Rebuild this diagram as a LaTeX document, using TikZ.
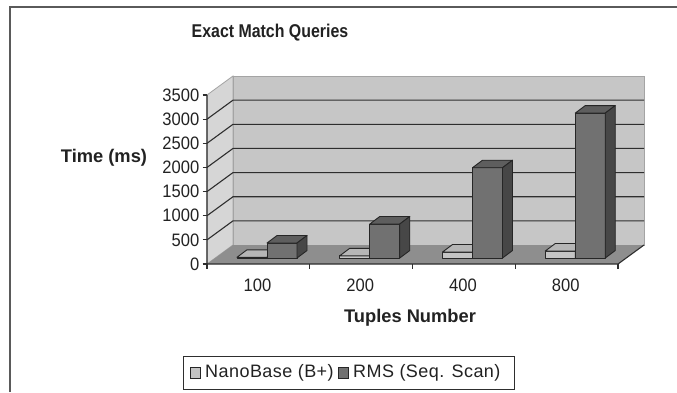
\documentclass[tikz,border=0pt]{standalone}
\usepackage{fontspec}
\setmainfont{Liberation Sans}
\newfontfamily\titlefont[FakeStretch=0.86]{Liberation Sans}
\newfontfamily\tickfont[FakeStretch=0.92]{Liberation Sans}
\newfontfamily\legfont[LetterSpace=2.5]{Liberation Sans}
\definecolor{framec}{HTML}{5A5A5A}
\definecolor{sidewall}{HTML}{D6D6D6}
\definecolor{backwall}{HTML}{C6C6C6}
\definecolor{walledge}{HTML}{A4A4A4}
\definecolor{floorc}{HTML}{8E8E8E}
\definecolor{gridc}{HTML}{2E2E2E}
\definecolor{txt}{HTML}{222222}
\definecolor{darkfront}{HTML}{717171}
\definecolor{darktop}{HTML}{5E5E5E}
\definecolor{darkside}{HTML}{474747}
\definecolor{lightfront}{HTML}{C4C4C4}
\definecolor{lighttop}{HTML}{B6B6B6}
\definecolor{lightside}{HTML}{9A9A9A}
\tikzset{
  gridline/.style={draw=gridc, line width=1.1},
  axisline/.style={draw=gridc, line width=1.1},
  barline/.style={draw=black!85, line width=0.9, line join=round},
  ticklab/.style={text=txt, font=\tickfont\fontsize{18}{20}\selectfont, inner sep=0pt},
  axtitle/.style={text=txt, font=\bfseries\fontsize{18.3}{21}\selectfont, inner sep=0pt},
  titlestyle/.style={text=txt, font=\titlefont\bfseries\fontsize{18.5}{21}\selectfont, inner sep=0pt},
  legtext/.style={text=txt, font=\legfont\fontsize{18}{20}\selectfont, inner sep=0pt, anchor=west},
}
\newcommand{\drawbar}[4]{% x1, x2, height, colour prefix
  \filldraw[fill=#4front, barline] (#1,258) rectangle (#2,{258-#3});
  \filldraw[fill=#4top, barline] (#1,{258-#3}) -- (#2,{258-#3}) -- ({#2+10},{250.5-#3}) -- ({#1+10},{250.5-#3}) -- cycle;
  \filldraw[fill=#4side, barline] (#2,258) -- ({#2+10},250.5) -- ({#2+10},{250.5-#3}) -- (#2,{258-#3}) -- cycle;
}
\begin{document}
\begin{tikzpicture}[x=1pt,y=-1pt]
\useasboundingbox (0,0) rectangle (677,392);
\fill[white] (0,0) rectangle (677,392);
% outer frame
\draw[framec, line width=1.6] (10,392) -- (10,7) -- (677,7);
% walls and floor
\filldraw[fill=sidewall, draw=walledge, line width=0.8] (207,264) -- (207,95) -- (233,76) -- (233,245) -- cycle;
\filldraw[fill=backwall, draw=walledge, line width=0.8] (233,245) rectangle (644,76);
\fill[floorc] (207,264) -- (618,264) -- (644,245) -- (233,245) -- cycle;
% gridlines
\foreach \v in {1,...,6}{
  \draw[gridline] (207,{264-\v*24.14}) -- (233,{245-\v*24.14}) -- (644,{245-\v*24.14});
}
% axes
\draw[axisline] (207,95) -- (207,264) -- (618,264) -- (644,245);
\foreach \v/\lab in {0/0,1/500,2/1000,3/1500,4/2000,5/2500,6/3000,7/3500}{
  \draw[axisline] (202.5,{264-\v*24.14}) -- (207,{264-\v*24.14});
  \node[ticklab, anchor=east] (yl\v) at (199.5,{264-\v*24.14}) {\lab};
}
\foreach \k in {0,...,4}{
  \draw[axisline] ({207+\k*102.75},264) -- ({207+\k*102.75},269);
}
% bars
\foreach \i/\lh/\dh/\lab in {0/0.7/15/100,1/2.2/34/200,2/6/90.3/400,3/7/144.9/800}{
  \pgfmathsetmacro{\cx}{258.5+102.75*\i}
  \pgfmathsetmacro{\bx}{\cx+8.5}
  \pgfmathsetmacro{\lx}{\bx-30}
  \pgfmathsetmacro{\rx}{\bx+30}
  \drawbar{\lx}{\bx}{\lh}{light}
  \drawbar{\bx}{\rx}{\dh}{dark}
  \node[ticklab] (xl\i) at ({\cx-1},285) {\lab};
}
% titles
\node[titlestyle] (title) at (270,33) {Exact Match Queries};
\node[axtitle] (ytitle) at (104,158) {Time (ms)};
\node[axtitle] (xtitle) at (410,318) {Tuples Number};
% legend
\draw[draw=gridc, line width=1] (183,356) rectangle (514,389);
\filldraw[fill=lightfront, draw=black!85, line width=0.8] (190,367) rectangle (200,378);
\filldraw[fill=darkfront, draw=black!85, line width=0.8] (338,367) rectangle (348,378);
\node[legtext] (leg1) at (205,372.5) {NanoBase (B+)};
\node[legtext] (leg2) at (353,372.5) {RMS (Seq. Scan)};
\end{tikzpicture}
\end{document}
